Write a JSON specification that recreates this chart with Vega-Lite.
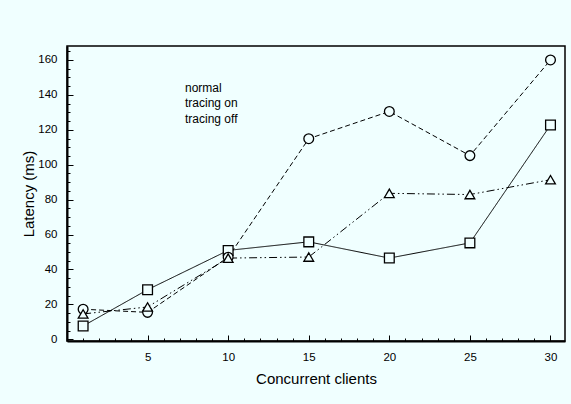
{
  "$schema": "https://vega.github.io/schema/vega-lite/v6.json",
  "width": 498,
  "height": 295,
  "autosize": "none",
  "padding": {"left": 67, "top": 46, "right": 6, "bottom": 63},
  "background": "#f0ffff",
  "config": {
    "font": "Liberation Sans",
    "view": {"stroke": "black", "strokeWidth": 1.5, "fill": "#f0ffff"},
    "axis": {
      "grid": false,
      "domainColor": "black",
      "domainWidth": 2,
      "tickColor": "black",
      "tickWidth": 1,
      "labelColor": "black",
      "titleColor": "black",
      "labelFont": "Liberation Sans",
      "titleFont": "Liberation Sans",
      "labelFontSize": 11.5,
      "titleFontSize": 15,
      "titleFontWeight": "normal",
      "labelOverlap": false,
      "labelFlush": false
    },
    "legend": {
      "labelFont": "Liberation Sans",
      "labelFontSize": 12,
      "labelColor": "black"
    }
  },
  "data": {
    "values": [
      {"clients": 1, "latency": 7.6, "series": "normal"},
      {"clients": 5, "latency": 28.4, "series": "normal"},
      {"clients": 10, "latency": 50.9, "series": "normal"},
      {"clients": 15, "latency": 55.8, "series": "normal"},
      {"clients": 20, "latency": 46.5, "series": "normal"},
      {"clients": 25, "latency": 55.2, "series": "normal"},
      {"clients": 30, "latency": 122.7, "series": "normal"},
      {"clients": 1, "latency": 17.2, "series": "tracing on"},
      {"clients": 5, "latency": 15.4, "series": "tracing on"},
      {"clients": 10, "latency": 47, "series": "tracing on"},
      {"clients": 15, "latency": 114.9, "series": "tracing on"},
      {"clients": 20, "latency": 130.5, "series": "tracing on"},
      {"clients": 25, "latency": 105.2, "series": "tracing on"},
      {"clients": 30, "latency": 160, "series": "tracing on"},
      {"clients": 1, "latency": 14.5, "series": "tracing off"},
      {"clients": 5, "latency": 18.5, "series": "tracing off"},
      {"clients": 10, "latency": 46.5, "series": "tracing off"},
      {"clients": 15, "latency": 47.1, "series": "tracing off"},
      {"clients": 20, "latency": 83.6, "series": "tracing off"},
      {"clients": 25, "latency": 82.9, "series": "tracing off"},
      {"clients": 30, "latency": 91.4, "series": "tracing off"}
    ]
  },
  "encoding": {
    "x": {
      "field": "clients",
      "type": "quantitative",
      "scale": {"domain": [0, 30.9], "nice": false, "zero": false},
      "axis": {
        "title": "Concurrent clients",
        "values": [1,2,3,4,5,6,7,8,9,10,11,12,13,14,15,16,17,18,19,20,21,22,23,24,25,26,27,28,29,30],
        "labelExpr": "datum.value % 5 === 0 ? datum.label : ''",
        "tickSize": {"condition": {"test": "datum.value % 5 === 0", "value": -6}, "value": -3},
        "labelPadding": 16,
        "titlePadding": 6
      }
    },
    "y": {
      "field": "latency",
      "type": "quantitative",
      "scale": {"domain": [-1, 168], "nice": false, "zero": false},
      "axis": {
        "title": "Latency (ms)",
        "values": [0,5,10,15,20,25,30,35,40,45,50,55,60,65,70,75,80,85,90,95,100,105,110,115,120,125,130,135,140,145,150,155,160,165],
        "labelExpr": "datum.value % 20 === 0 ? datum.label : ''",
        "tickSize": {"condition": {"test": "datum.value % 20 === 0", "value": -6}, "value": -3},
        "labelPadding": 16,
        "titlePadding": 1
      }
    }
  },
  "layer": [
    {
      "mark": {"type": "line", "color": "black", "strokeWidth": 1},
      "encoding": {
        "detail": {"field": "series", "type": "nominal"},
        "strokeDash": {
          "field": "series",
          "type": "nominal",
          "scale": {"domain": ["tracing on", "normal", "tracing off"], "range": [[5, 3], [1, 0], [8, 3, 1.5, 3, 1.5, 3]]},
          "legend": null
        }
      }
    },
    {
      "mark": {"type": "point", "filled": false, "fill": "#f0ffff", "fillOpacity": 1, "stroke": "black", "strokeWidth": 1.3, "opacity": 1, "size": 95},
      "encoding": {
        "shape": {
          "field": "series",
          "type": "nominal",
          "scale": {"domain": ["normal", "tracing on", "tracing off"], "range": ["square", "circle", "triangle-up"]},
          "legend": {
            "orient": "none",
            "legendX": 69,
            "legendY": 35.5,
            "title": null,
            "padding": 0,
            "symbolSize": 60,
            "symbolOffset": 0,
            "symbolStrokeColor": "black",
            "symbolFillColor": "#f0ffff",
            "symbolStrokeWidth": 1,
            "symbolOpacity": 1,
            "labelOffset": 37,
            "rowPadding": 3.5
          }
        }
      }
    }
  ]
}
